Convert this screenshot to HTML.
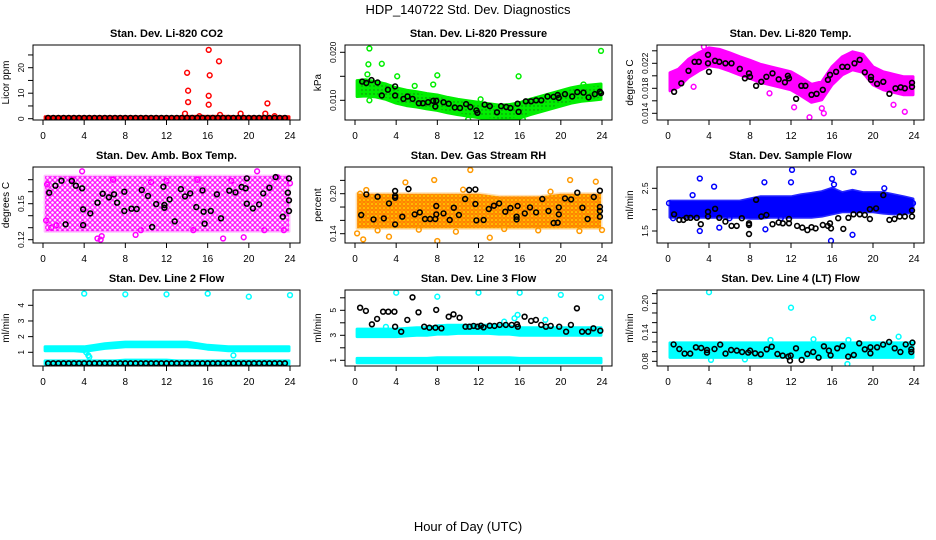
<!DOCTYPE html>
<html><head><meta charset="utf-8"><title>HDP_140722 Std. Dev. Diagnostics</title>
<style>
html,body{margin:0;padding:0;background:#fff;}
svg{display:block;font-family:"Liberation Sans",Arial,sans-serif;}
.tl{font-size:10px;fill:#000;}
.yl{font-size:8.5px;fill:#000;}
.pt{font-size:11px;font-weight:bold;fill:#000;}
</style></head>
<body>
<svg id="chart" width="936" height="540" viewBox="0 0 936 540" xmlns="http://www.w3.org/2000/svg">
<defs>
<pattern id="pat-magenta" width="5" height="5" patternUnits="userSpaceOnUse"><circle cx="2.5" cy="2.5" r="1.9" fill="none" stroke="#ff00ff" stroke-width="1.2"/></pattern>
<pattern id="pat-orange" width="4" height="4" patternUnits="userSpaceOnUse"><rect width="4" height="4" fill="#ffcc00"/><circle cx="2" cy="2" r="1.3" fill="none" stroke="#ff6600" stroke-width="1"/></pattern>
<pattern id="pat-green" width="4" height="4" patternUnits="userSpaceOnUse"><rect width="4" height="4" fill="#00ee00"/><circle cx="2" cy="2" r="0.7" fill="#117711"/></pattern>
</defs>
<rect width="936" height="540" fill="#fff"/>
<text x="468" y="14" text-anchor="middle" font-size="13">HDP_140722  Std. Dev. Diagnostics</text>
<text x="468" y="531" text-anchor="middle" font-size="13">Hour of Day (UTC)</text>
</svg>
<script>
// ---------- data ----------
const xTicks = [0,4,8,12,16,20,24];
const bandHours = [0.2,1,2,3,4,5,6,7,8,9,10,11,12,13,14,15,16,17,18,19,20,21,22,23,23.9];

// CO2
const co2BandLo = [0,0,0,0,0,0,0,0,0,0,0,0,0,0,0,0,0,0,0,0,0,0,0,0,0];
const co2BandHi = [0.8,0.8,0.8,0.8,0.8,0.8,0.8,0.8,0.8,0.8,0.8,0.8,0.8,0.8,0.9,0.9,0.9,0.9,0.9,0.8,0.8,0.8,0.8,0.8,0.8];
const co2OutHours = [14,14.1,14.1,16.1,16.2,16.1,16.1,17.1,21.8,13.8,15.2,17.2,19.2,21.6,22.5];
const co2OutVals = [18,11,6.5,27,17,9,5.5,22.5,6,2,1,1.5,2,2,1];
const co2BlkHours = [0.5,1,1.5,2,2.5,3,3.5,4,4.5,5,5.5,6,6.5,7,7.5,8,8.5,9,9.5,10,10.5,11,11.5,12,12.5,13,13.5,14,14.5,15,15.5,16,16.5,17,17.5,18,18.5,19,19.5,20,20.5,21,21.5,22,22.5,23,23.5];
const co2BlkVals = [0.3,0.3,0.3,0.3,0.3,0.3,0.3,0.3,0.3,0.3,0.3,0.3,0.3,0.3,0.3,0.3,0.3,0.3,0.3,0.3,0.3,0.3,0.3,0.3,0.3,0.3,0.3,0.3,0.3,0.3,0.3,0.3,0.3,0.3,0.3,0.3,0.3,0.3,0.3,0.3,0.3,0.3,0.3,0.3,0.3,0.3,0.3];

// Pressure (x0.001 kPa)
const prBandLo = [10.8,10.9,10.7,10.2,9.4,8.9,8.6,8.2,7.9,7.4,7.0,6.7,6.4,6.1,5.8,5.9,6.3,7.0,7.6,8.2,8.8,9.4,9.8,10.0,10.2];
const prBandHi = [14.1,14.3,13.9,13.4,12.6,12.1,11.8,11.4,11.1,10.6,10.2,9.9,9.6,9.3,9.0,9.1,9.5,10.2,10.8,11.4,12.0,12.6,13.0,13.2,13.4];
const prOutHours = [1.4,1.3,2.6,1.2,4.1,8.0,7.6,15.9,23.9,5.8,1.4,11,12.2,16.3,22.2];
const prOutVals = [20.8,17.5,17.6,15.4,15.0,15.2,13.3,15.0,20.3,13.0,10,6,10.2,6.0,13.3];
const prBlkHours = [0.7,1.1,1.6,2.2,2.6,3.2,3.9,3.9,4.7,5.1,5.6,6.2,6.6,7.1,7.6,7.8,7.9,8.6,9.1,9.7,10.2,10.8,11.2,11.8,11.9,12.6,13.1,13.8,14.2,14.7,15.1,15.8,15.9,16.6,17.1,17.6,18.1,18.7,19.3,19.7,19.8,20.4,21.1,21.6,22.2,22.7,23.3,23.8,23.9];
const prBlkVals = [13.9,13.6,14.2,13.7,11,12.2,12.9,11,10.3,10.8,10.3,9.4,9.4,9.6,9.9,8.7,9.9,9.6,9.3,8.5,8.4,9.2,8.6,7.9,7.4,9.1,8.8,7.5,8.8,8.6,8.4,9.3,7.6,9.8,9.8,10,10,10.8,10.7,11.1,10.5,11.3,10.8,11.7,11.6,10.6,11.3,11.8,11.5];

// Li-820 temp (x0.001 degC)
const tpBandLo = [17.6,18.16,19.76,20.8,21.6,21.36,20.8,20.16,19.6,18.96,18.56,18.16,17.76,16.8,15.76,16.16,18.56,20.16,20.96,20.56,18.56,17.76,17.36,16.96,16.96];
const tpBandHi = [20.48,21.04,22.64,23.68,24.48,24.24,23.68,23.04,22.48,21.84,21.44,21.04,20.64,19.68,18.64,19.04,21.44,23.04,23.84,23.44,21.44,20.64,20.24,19.84,19.84];
const tpOutHours = [3.5,2.5,12.3,13.8,15.0,15.2,9.9,23.1,22];
const tpOutVals = [24.64,18.24,14.96,13.36,14.8,14,17.2,14.24,15.36];
const tpBlkHours = [0.6,1.3,2.0,2.6,3.0,3.9,3.9,4.0,4.6,5.0,5.6,6.2,7.0,7.5,7.9,8.0,8.6,9.1,9.6,10.2,10.8,11.4,11.7,11.8,12.5,13.0,13.4,14.0,14.5,15.1,15.8,15.6,16.4,17.0,17.5,18.2,18.7,19.2,19.8,19.8,20.4,21.0,21.6,22.2,22.7,23.1,23.8,23.8];
const tpBlkVals = [17.44,18.8,20.8,22.24,22.24,23.36,22.0,20.64,22.4,22.24,22.0,22.0,21.12,19.6,20.4,19.84,18.4,19.04,19.84,20.4,19.44,18.96,20.0,19.6,16.32,18.4,18.4,16.96,17.12,17.76,20.16,19.36,20.64,21.44,21.44,22.0,22.56,20.56,19.84,19.36,18.72,19.04,17.12,18.0,18.16,18.0,18.24,18.88];

// Amb box temp
const abBandLo = [0.127,0.127,0.127,0.127,0.127,0.127,0.127,0.127,0.127,0.127,0.127,0.127,0.127,0.127,0.127,0.127,0.127,0.127,0.127,0.127,0.127,0.127,0.127,0.127,0.127];
const abBandHi = [0.173,0.173,0.173,0.173,0.173,0.173,0.173,0.173,0.173,0.173,0.173,0.173,0.173,0.173,0.173,0.173,0.173,0.173,0.173,0.173,0.173,0.173,0.173,0.173,0.173];
const abOutHours = [0.4,5.3,5.6,5.7,9,17.5,19.5,21.5,23.4,20.8,3.8,2.8,12,15,24,0.3,9.5,0.8,1.3,14.6,6.8,10.5,18.3,22.8];
const abOutVals = [0.166,0.121,0.12,0.123,0.124,0.121,0.122,0.128,0.128,0.177,0.177,0.17,0.169,0.17,0.167,0.136,0.128,0.13,0.132,0.128,0.17,0.168,0.169,0.172];
const abBlkHours = [0.6,1.2,1.8,2.2,2.8,3.2,3.8,3.9,3.9,4.6,5.3,5.8,6.4,6.9,7.2,7.9,7.9,8.6,9.1,9.6,10.2,10.6,11.0,11.7,11.8,11.8,12.3,12.8,13.4,13.8,14.3,14.9,15.5,15.6,15.7,16.3,16.9,17.3,18.1,18.7,19.3,19.7,19.8,19.8,20.4,21.0,21.4,22.0,22.6,23.3,23.8,23.9,23.9,23.9];
const abBlkVals = [0.1592,0.165,0.1692,0.1328,0.1689,0.165,0.1628,0.1453,0.1322,0.1419,0.1508,0.1583,0.1553,0.1578,0.1508,0.16,0.1439,0.1458,0.1456,0.1614,0.1564,0.1306,0.1497,0.1642,0.1489,0.1467,0.1536,0.1353,0.1622,0.1561,0.1586,0.1472,0.1611,0.1433,0.1333,0.1439,0.1578,0.1378,0.1608,0.1594,0.1639,0.1628,0.1711,0.15,0.1461,0.1494,0.1586,0.1633,0.1722,0.1392,0.1592,0.1711,0.1528,0.1439];

// Gas stream RH
const rhBandLo = [0.148,0.148,0.148,0.148,0.148,0.148,0.148,0.148,0.148,0.148,0.148,0.148,0.148,0.148,0.148,0.148,0.148,0.148,0.148,0.148,0.148,0.148,0.148,0.148,0.148];
const rhBandHi = [0.2,0.2,0.2,0.2,0.2,0.2,0.2,0.2,0.2,0.2,0.2,0.2,0.2,0.198,0.196,0.196,0.196,0.196,0.196,0.198,0.2,0.2,0.2,0.2,0.2];
const rhOutHours = [11.2,7.7,20.9,23.4,0.8,8.0,3.3,13.1,0.2,24,4.9,1.1,2.2,6.2,9.8,14.5,17.8,21.8,0.5,10.5,19.0];
const rhOutVals = [0.2355,0.2205,0.2205,0.218,0.1315,0.129,0.1355,0.134,0.1405,0.1455,0.217,0.2055,0.145,0.146,0.143,0.147,0.145,0.144,0.2,0.206,0.203];
const rhBlkHours = [0.6,1.1,1.8,2.2,2.8,3.3,3.9,3.9,3.9,3.9,4.6,5.2,5.8,6.3,6.8,7.3,7.8,7.9,7.9,8.6,9.2,9.6,10.1,10.7,11.1,11.7,11.7,11.8,12.5,13.0,13.5,14.0,14.6,15.1,15.7,15.7,15.8,16.5,17.0,17.6,18.2,18.8,19.3,19.7,19.8,19.8,20.4,21.0,21.6,22.1,22.6,23.2,23.8,23.8,23.8,23.8];
const rhBlkVals = [0.168,0.199,0.1615,0.1955,0.163,0.1855,0.204,0.1965,0.194,0.154,0.1655,0.207,0.169,0.172,0.162,0.162,0.162,0.1815,0.169,0.1705,0.1605,0.179,0.168,0.192,0.2055,0.2065,0.1845,0.16,0.1605,0.177,0.182,0.1855,0.173,0.1785,0.1655,0.1615,0.1815,0.1705,0.1795,0.172,0.192,0.174,0.156,0.1565,0.1795,0.169,0.193,0.1915,0.2015,0.179,0.162,0.195,0.2045,0.18,0.174,0.1655];

// Sample flow
const sfBandLo = [1.82,1.82,1.82,1.82,1.82,1.82,1.82,1.82,1.8,1.8,1.82,1.82,1.82,1.82,1.82,1.85,1.9,1.95,1.95,1.95,1.95,1.92,1.9,1.9,1.95];
const sfBandHi = [2.2,2.2,2.2,2.2,2.2,2.2,2.2,2.2,2.25,2.3,2.3,2.3,2.3,2.35,2.38,2.42,2.5,2.4,2.45,2.4,2.4,2.4,2.35,2.3,2.25];
const sfOutHours = [3.1,4.5,2.4,3.1,9.4,12.1,12.0,18.1,18.0,15.9,9.5,5.0,16.0,21.1,16.2,0.1,0.5,6.0,11.0,23.9];
const sfOutVals = [2.73,2.54,2.34,1.5,2.64,2.93,2.64,2.88,1.41,1.27,1.54,1.58,2.72,2.5,2.59,2.15,1.8,1.8,1.8,2.15];
const sfBlkHours = [0.6,1.1,1.5,1.8,2.2,2.8,3.2,3.9,3.9,4.6,5.0,5.6,6.2,6.7,7.2,7.9,7.9,7.9,8.6,9.1,9.6,10.2,10.8,11.2,11.8,11.8,12.6,13.1,13.6,14.0,14.4,15.1,15.6,15.8,15.9,16.6,17.1,17.6,18.1,18.7,19.2,19.7,19.7,20.3,21.0,21.6,22.1,22.6,23.1,23.8,23.8];
const sfBlkVals = [1.89,1.76,1.76,1.81,1.81,1.81,1.66,1.84,1.95,2.02,1.81,1.72,1.62,1.62,1.8,1.68,1.64,1.43,2.23,1.84,1.875,1.66,1.7,1.68,1.68,1.78,1.62,1.58,1.52,1.59,1.56,1.64,1.62,1.68,1.56,1.8,1.55,1.81,1.89,1.89,1.875,2.01,1.78,2.03,2.34,1.76,1.78,1.84,1.84,1.98,1.84];

// Line 2 flow
const l2BandLo = [1.1,1.1,1.1,1.1,1.05,1.15,1.25,1.3,1.35,1.35,1.35,1.35,1.35,1.35,1.35,1.3,1.2,1.15,1.1,1.1,1.1,1.1,1.1,1.1,1.1];
const l2BandHi = [1.35,1.35,1.35,1.35,1.35,1.45,1.55,1.6,1.65,1.65,1.65,1.65,1.65,1.65,1.65,1.55,1.45,1.4,1.35,1.35,1.35,1.35,1.35,1.35,1.35];
const l2LowLo = [0.25,0.25,0.25,0.25,0.25,0.25,0.25,0.25,0.25,0.25,0.25,0.25,0.25,0.25,0.25,0.25,0.25,0.25,0.25,0.25,0.25,0.25,0.25,0.25,0.25];
const l2LowHi = [0.45,0.45,0.45,0.45,0.45,0.45,0.45,0.45,0.5,0.5,0.5,0.5,0.5,0.45,0.45,0.45,0.45,0.45,0.45,0.45,0.45,0.45,0.45,0.45,0.45];
const l2OutHours = [4,8,12,16,20,24,4.4,18.5,4.2,4.5];
const l2OutVals = [4.75,4.7,4.7,4.75,4.55,4.65,0.8,0.8,1.0,0.7];
const l2BlkHours = [0.5,1,1.5,2,2.5,3,3.5,4,4.5,5,5.5,6,6.5,7,7.5,8,8.5,9,9.5,10,10.5,11,11.5,12,12.5,13,13.5,14,14.5,15,15.5,16,16.5,17,17.5,18,18.5,19,19.5,20,20.5,21,21.5,22,22.5,23,23.5];
const l2BlkVals = [0.3,0.3,0.3,0.3,0.3,0.3,0.3,0.3,0.3,0.3,0.3,0.3,0.3,0.3,0.3,0.3,0.3,0.3,0.3,0.3,0.3,0.3,0.3,0.3,0.3,0.3,0.3,0.3,0.3,0.3,0.3,0.3,0.3,0.3,0.3,0.3,0.3,0.3,0.3,0.3,0.3,0.3,0.3,0.3,0.3,0.3,0.3];

// Line 3 flow
const l3BandLo = [2.9,2.9,2.9,2.9,2.9,2.95,3.0,3.0,3.1,3.1,3.15,3.15,3.15,3.15,3.1,3.1,3.0,3.0,3.0,3.0,3.0,3.0,3.0,3.0,3.0];
const l3BandHi = [3.5,3.5,3.5,3.5,3.5,3.55,3.6,3.6,3.75,3.8,3.8,3.8,3.8,3.8,3.8,3.75,3.6,3.6,3.6,3.6,3.6,3.6,3.6,3.6,3.6];
const l3LowLo = [0.8,0.8,0.8,0.8,0.8,0.8,0.8,0.8,0.8,0.8,0.8,0.8,0.8,0.8,0.8,0.8,0.8,0.8,0.8,0.8,0.8,0.8,0.8,0.8,0.8];
const l3LowHi = [1.15,1.15,1.15,1.15,1.15,1.15,1.15,1.15,1.2,1.2,1.2,1.2,1.2,1.2,1.2,1.2,1.15,1.15,1.15,1.15,1.15,1.15,1.15,1.15,1.15];
const l3OutHours = [4.0,8.0,12,16,20,23.9,15.8,15.5,14.5,18.5,3];
const l3OutVals = [6.41,6.09,6.41,6.41,6.23,6.04,4.63,4.36,4.09,4.23,3.67];
const l3BlkHours = [0.5,1.06,1.64,2.15,2.73,3.24,3.83,3.9,4.49,5.08,5.59,6.17,6.72,7.23,7.81,7.89,8.4,9.1,9.57,10.16,10.74,11.13,11.52,11.91,12.23,12.5,13.09,13.55,14.06,14.65,15.23,15.74,15.82,16.48,17.11,17.58,18.09,18.55,19.02,19.84,20.51,20.98,21.56,22.07,22.66,23.16,23.83];
const l3BlkVals = [5.21,4.95,3.88,4.31,4.89,4.89,4.89,3.69,3.29,4.23,6.04,4.84,3.69,3.61,3.61,5.03,3.56,4.49,4.68,4.41,3.69,3.69,3.75,3.69,3.77,3.64,3.77,3.75,3.83,3.83,3.83,3.88,3.69,4.49,4.15,4.23,3.83,3.69,3.75,3.69,3.29,3.83,5.16,3.29,3.29,3.56,3.37];

// Line 4 flow
const l4BandLo = [0.088,0.088,0.088,0.088,0.088,0.088,0.088,0.088,0.088,0.088,0.088,0.088,0.088,0.088,0.088,0.088,0.088,0.088,0.088,0.088,0.088,0.088,0.088,0.088,0.088];
const l4BandHi = [0.118,0.118,0.118,0.118,0.118,0.118,0.118,0.118,0.118,0.118,0.118,0.118,0.118,0.118,0.118,0.118,0.118,0.118,0.118,0.118,0.118,0.118,0.118,0.118,0.118];
const l4OutHours = [4.0,12.0,20.0,22.5,14.2,17.6,10,17.5,4.2,7.5];
const l4OutVals = [0.223,0.191,0.17,0.131,0.1255,0.124,0.124,0.0745,0.083,0.084];
const l4BlkHours = [0.55,1.1,1.62,2.17,2.72,3.24,3.8,3.8,4.54,5.09,5.61,6.16,6.71,7.23,7.82,8.01,8.5,9.05,9.63,10.12,10.67,11.19,11.74,11.9,11.97,12.49,13.04,13.59,14.17,14.69,15.21,15.7,15.86,16.51,17.03,17.58,18.13,18.65,19.2,19.75,19.75,20.4,20.99,21.57,22.12,22.67,23.19,23.74,23.74,23.84];
const l4BlkVals = [0.115,0.1055,0.0959,0.0959,0.109,0.1076,0.1034,0.0979,0.1055,0.1145,0.0959,0.1034,0.1021,0.0993,0.0979,0.1021,0.0966,0.0945,0.1048,0.1103,0.0952,0.0917,0.0897,0.0814,0.0917,0.1069,0.0828,0.0952,0.0993,0.0876,0.111,0.1021,0.0924,0.1069,0.1117,0.0897,0.0931,0.1172,0.1048,0.109,0.0966,0.109,0.1145,0.12,0.1069,0.0993,0.115,0.1048,0.0993,0.1186];

// ---------- layout ----------
const svg = document.getElementById('chart');
const NS = 'http://www.w3.org/2000/svg';
const cols = [{l:33,r:300,x0:43,x24:290},{l:345,r:612,x0:355,x24:602},{l:657,r:924,x0:668,x24:914}];
const rows = [{t:45,b:120},{t:167,b:243},{t:290,b:366}];

function mk(tag, attrs, parent){
  const e = document.createElementNS(NS, tag);
  for (const k in attrs) e.setAttribute(k, attrs[k]);
  (parent||svg).appendChild(e);
  return e;
}

const panels = [
 {id:'co2',title:'Stan. Dev. Li-820 CO2',ytitle:'Licor ppm',c:0,r:0,v0:0,y0:118.7,v1:20,y1:67.7,ticks:[0,5,10,15,20,25],labels:[0,10,20],fmt:v=>String(v),col:'#ff0000',fill:'#ff0000',bandOp:1,
  bands:[[co2BandLo,co2BandHi]],out:[co2OutHours,co2OutVals],blk:[co2BlkHours,co2BlkVals]},
 {id:'pressure',title:'Stan. Dev. Li-820 Pressure',ytitle:'kPa',c:1,r:0,v0:10,y0:100.3,v1:20,y1:52.3,ticks:[10,15,20],labels:[10,20],fmt:v=>(v/1000).toFixed(3),col:'#00ee00',fill:'url(#pat-green)',bandOp:1,
  bands:[[prBandLo,prBandHi]],out:[prOutHours,prOutVals],blk:[prBlkHours,prBlkVals]},
 {id:'temp',title:'Stan. Dev. Li-820 Temp.',ytitle:'degrees C',c:2,r:0,v0:14,y0:113.3,v1:22,y1:63.3,ticks:[14,16,18,20,22,24],labels:[14,18,22],fmt:v=>(v/1000).toFixed(3),col:'#ff00ff',fill:'#ff00ff',bandOp:1,
  bands:[[tpBandLo,tpBandHi]],out:[tpOutHours,tpOutVals],blk:[tpBlkHours,tpBlkVals]},
 {id:'amb-box',title:'Stan. Dev. Amb. Box Temp.',ytitle:'degrees C',c:0,r:1,v0:0.15,y0:203.7,v1:0.12,y1:239.7,ticks:[0.12,0.13,0.14,0.15,0.16,0.17],labels:[0.12,0.15],fmt:v=>v.toFixed(2),col:'#ff00ff',fill:'url(#pat-magenta)',bandOp:0.25,
  bands:[[abBandLo,abBandHi]],out:[abOutHours,abOutVals],blk:[abBlkHours,abBlkVals]},
 {id:'rh',title:'Stan. Dev. Gas Stream RH',ytitle:'percent',c:1,r:1,v0:0.20,y0:193.7,v1:0.14,y1:233.7,ticks:[0.14,0.16,0.18,0.20,0.22],labels:[0.14,0.20],fmt:v=>v.toFixed(2),col:'#ff9900',fill:'url(#pat-orange)',bandOp:0.3,
  bands:[[rhBandLo,rhBandHi]],out:[rhOutHours,rhOutVals],blk:[rhBlkHours,rhBlkVals]},
 {id:'sample-flow',title:'Stan. Dev. Sample Flow',ytitle:'ml/min',c:2,r:1,v0:1.5,y0:231,v1:2.5,y1:188.3,ticks:[1.5,2.0,2.5],labels:[1.5,2.5],fmt:v=>v.toFixed(1),col:'#0000ff',fill:'#0000ff',bandOp:0.85,
  bands:[[sfBandLo,sfBandHi]],out:[sfOutHours,sfOutVals],blk:[sfBlkHours,sfBlkVals]},
 {id:'line2',title:'Stan. Dev. Line 2 Flow',ytitle:'ml/min',c:0,r:2,v0:1,y0:352.3,v1:4,y1:305.3,ticks:[1,2,3,4],labels:[1,2,3,4],fmt:v=>String(v),col:'#00ffff',fill:'#00ffff',bandOp:1,
  bands:[[l2BandLo,l2BandHi],[l2LowLo,l2LowHi]],out:[l2OutHours,l2OutVals],blk:[l2BlkHours,l2BlkVals]},
 {id:'line3',title:'Stan. Dev. Line 3 Flow',ytitle:'ml/min',c:1,r:2,v0:1,y0:360.3,v1:5,y1:310.3,ticks:[1,2,3,4,5,6],labels:[1,3,5],fmt:v=>String(v),col:'#00ffff',fill:'#00ffff',bandOp:1,
  bands:[[l3BandLo,l3BandHi],[l3LowLo,l3LowHi]],out:[l3OutHours,l3OutVals],blk:[l3BlkHours,l3BlkVals]},
 {id:'line4',title:'Stan. Dev. Line 4 (LT) Flow',ytitle:'ml/min',c:2,r:2,v0:0.08,y0:361.3,v1:0.20,y1:303.3,ticks:[0.08,0.10,0.12,0.14,0.16,0.18,0.20,0.22],labels:[0.08,0.14,0.20],fmt:v=>v.toFixed(2),col:'#00ffff',fill:'#00ffff',bandOp:1,
  bands:[[l4BandLo,l4BandHi]],out:[l4OutHours,l4OutVals],blk:[l4BlkHours,l4BlkVals]}
];

panels.forEach(p => {
  const C = cols[p.c], R = rows[p.r];
  const xs = h => C.x0 + (h/24)*(C.x24-C.x0);
  const ys = v => p.y0 + (v-p.v0)*(p.y1-p.y0)/(p.v1-p.v0);
  const g = mk('g', {});
  
  
  const cid = 'clip-' + p.id;
  const cp = mk('clipPath', {id:cid}, g);
  mk('rect', {x:C.l, y:R.t, width:C.r-C.l, height:R.b-R.t}, cp);
  const plot = mk('g', {'clip-path':'url(#'+cid+')'}, g);

  p.bands.forEach((bd, bi) => {
    const lo = bd[0], hi = bd[1];
    let pts = bandHours.map((h,i)=> xs(h).toFixed(1)+','+ys(hi[i]).toFixed(1));
    for (let i=bandHours.length-1;i>=0;i--) pts.push(xs(bandHours[i]).toFixed(1)+','+ys(lo[i]).toFixed(1));
    const poly = mk('polygon', {points:pts.join(' '), fill:p.fill, stroke:p.col, 'stroke-width':3, 'stroke-opacity':p.bandOp, 'stroke-linejoin':'round'}, plot);
    
    
  });
  p.out[0].forEach((h,i) => {
    const c = mk('circle', {cx:xs(h).toFixed(1), cy:ys(p.out[1][i]).toFixed(1), r:2.4, fill:'none', stroke:p.col, 'stroke-width':1.5}, plot);
    
    
  });
  p.blk[0].forEach((h,i) => {
    const c = mk('circle', {cx:xs(h).toFixed(1), cy:ys(p.blk[1][i]).toFixed(1), r:2.4, fill:'none', stroke:'#000', 'stroke-width':1.6}, plot);
    
    
  });

  const box = mk('rect', {x:C.l, y:R.t, width:C.r-C.l, height:R.b-R.t, fill:'none', stroke:'#000', 'stroke-width':1}, g);
  
  

  const xa = mk('g', {}, g);
  
  
  mk('line', {x1:xs(0), x2:xs(24), y1:R.b, y2:R.b, stroke:'#000'}, xa);
  xTicks.forEach(t => {
    mk('line', {x1:xs(t), x2:xs(t), y1:R.b, y2:R.b+5, stroke:'#000'}, xa);
    const tx = mk('text', {x:xs(t), y:R.b+19, 'text-anchor':'middle', class:'tl'}, xa);
    tx.textContent = t;
  });

  const ya = mk('g', {}, g);
  
  
  const yt = p.ticks.filter(t => ys(t) >= R.t-1 && ys(t) <= R.b+1);
  mk('line', {x1:C.l, x2:C.l, y1:ys(yt[0]), y2:ys(yt[yt.length-1]), stroke:'#000'}, ya);
  yt.forEach(t => {
    mk('line', {x1:C.l-5, x2:C.l, y1:ys(t), y2:ys(t), stroke:'#000'}, ya);
  });
  p.labels.forEach(t => {
    const y = ys(t), x = C.l-9;
    const tx = mk('text', {x:x, y:y, transform:'rotate(-90 '+x+' '+y+')', 'text-anchor':'middle', class:'yl'}, ya);
    tx.textContent = p.fmt(t);
  });
  const yx = C.l-24, yy = (R.t+R.b)/2;
  const ytt = mk('text', {x:yx, y:yy, transform:'rotate(-90 '+yx+' '+yy+')', 'text-anchor':'middle', class:'tl'}, g);
  ytt.textContent = p.ytitle;
  
  

  const tt = mk('text', {x:(C.l+C.r)/2, y:R.t-8, 'text-anchor':'middle', class:'pt'}, g);
  tt.textContent = p.title;
  
  
});
</script>
</body></html>
